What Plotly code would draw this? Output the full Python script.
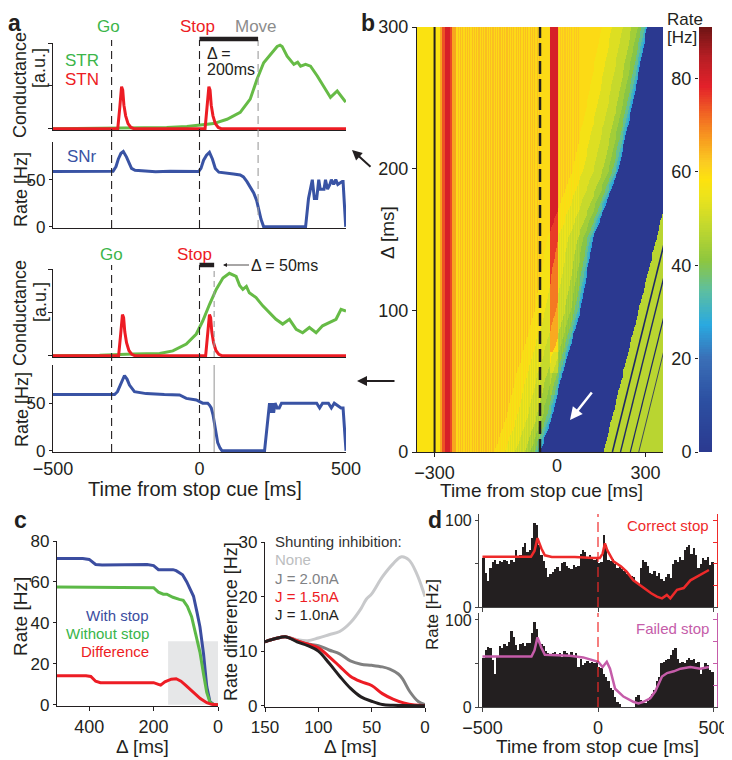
import numpy as np
import plotly.graph_objects as go

W, H = 732, 760          # browser window
OFF = 8                  # default page margin of the html body
FW, FH = W - OFF, H - OFF
FONT = "Liberation Sans, Arial, Helvetica, sans-serif"
INK = "#231f20"

# ======================= DATA =======================
# ---- panel a, upper (delta = 200 ms) ----
a1_str_t = [-500, -226, -112, -43, -3, 48, 94, 139, 173, 196, 219, 242, 265, 275, 282, 299, 322, 335, 345, 362, 379,
            402, 425, 447, 470, 482, 499]
a1_str_v = [0, 0.01, 0.03, 0.05, 0.08, 0.12, 0.22, 0.38, 0.69, 1.15, 1.54, 1.73, 1.92, 1.95, 1.92, 1.69, 1.5, 1.55,
            1.46, 1.5, 1.46, 1.23, 0.96, 0.73, 0.88, 0.77, 0.62]
a1_stn_t = [-500, -279, -272, -266, -262, -258, -252, -244, -234, -224, 19, 26, 32, 36, 40, 46, 54, 64, 74, 500]
a1_stn_v = [0, 0, 0.5, 0.98, 0.9, 0.55, 0.3, 0.12, 0.03, 0, 0, 0.5, 0.98, 0.9, 0.55, 0.3, 0.12, 0.03, 0, 0]
a2_snr_t = [-500, -400, -295, -285, -277, -268, -260, -249, -240, -232, -220, -203, -150, -100, -50, -3, 5, 14, 24,
            34, 44, 54, 66, 82, 100, 116, 139, 150, 162, 175, 185, 195, 202, 210, 219, 362, 372, 385, 392, 400, 407,
            412, 425, 430, 437, 445, 450, 458, 465, 472, 487, 490, 499]
a2_snr_v = [58.6, 59, 59, 64, 72, 78, 80, 74, 68, 62, 60, 59.5, 58.5, 59, 58.5, 58.6, 62, 70.7, 76, 79, 72, 62, 58,
            57.6, 57, 56, 55, 53, 48, 42, 36, 28, 19, 8, 0, 0, 30, 50, 30, 30, 50, 40, 40, 50, 40, 45, 50, 45, 50, 45,
            48, 48, 0]
# ---- panel a, lower (delta = 50 ms) ----
a3_str_t = [-500, -341, -227, -136, -91, -45, -11, 11, 34, 57, 80, 102, 125, 137, 148, 160, 170, 193, 216, 239, 261,
            284, 307, 330, 352, 375, 398, 420, 443, 466, 483, 500]
a3_str_v = [0, 0.01, 0.04, 0.05, 0.11, 0.27, 0.5, 0.8, 1.18, 1.53, 1.79, 1.9, 1.83, 1.62, 1.53, 1.6, 1.45, 1.34, 1.15,
            0.99, 0.84, 0.73, 0.84, 0.61, 0.53, 0.65, 0.53, 0.69, 0.76, 0.84, 1.07, 1.03]
a3_stn_t = [-500, -276, -269, -263, -259, -255, -249, -241, -231, -221, 21, 28, 34, 38, 42, 48, 56, 66, 76, 500]
a3_stn_v = [0, 0, 0.5, 0.95, 0.88, 0.55, 0.3, 0.12, 0.03, 0, 0, 0.5, 0.95, 0.88, 0.55, 0.3, 0.12, 0.03, 0, 0]
a4_snr_t = [-500, -290, -280, -273, -264, -256, -247, -239, -222, -182, -120, -68, -45, -11, 11, 28, 34, 40, 46, 51,
            57, 62, 70, 77, 222, 232, 239, 243, 248, 253, 258, 265, 272, 280, 300, 341, 400, 410, 420, 440, 450, 460,
            483, 490, 500]
a4_snr_v = [59, 59, 62, 67, 74, 79, 75, 69, 62, 60, 59, 58.6, 55, 53.4, 50, 50, 48, 45, 38, 27.6, 17, 8.6, 3, 0, 0, 30,
            50, 40, 50, 40, 50, 45, 45, 50, 50, 50, 50, 45, 50, 50, 45, 50, 45, 45, 0]
a_upper_events = [-300, 0]        # Go, Stop
a_upper_move = 200                # Move
a_lower_events = [-300, 0]
a_lower_move = 50

# ---- panel b heat map ----
hm_t_range = [-350, 350]
hm_dt = 2.5
hm_d_range = [0, 300]
hm_dd = 1.5
base_edges = [-350, -285, -277, -270, -256, -249, -241, 0, 25, 50, 110]
base_vals = [57.5, 66, 74, 80, 75, 66, 61.5, 59.5, 60, 61, 59.5]
stripe_t = [-241, 0, 50, 110]          # textured (striped) stretches
stripe_amp = [1.8, 1.4]
stopband_t = [28, 50]
stopband_delta_edges = [0, 40, 55, 70]
stopband_vals = [60, 64, 71, 80]
boundary_delta = [0, 25, 50, 75, 100, 125, 150, 175, 200, 250, 300]
boundary_t = [0, 35, 58, 87, 115, 133, 150, 187, 224, 267, 305]
ramp_d_edges = [0, 3, 8, 16, 28, 44, 70, 100, 130]
ramp_f = [0.45, 0.52, 0.6, 0.68, 0.74, 0.82, 0.88, 0.95, 1.0]
rebound_delta = [0, 170]
rebound_t = [181, 351]
rebound_rate = 47
rebound_dark_t0 = [206, 229, 257, 281]
rebound_dark_w = [1.6, 1.4, 1.2, 0.8]
cbar_max = 91

# ---- panel c left ----
c_blue_d = [500, 420, 400, 380, 360, 300, 220, 200, 185, 170, 140, 130, 110, 97, 85, 76, 65, 56, 45, 35, 25, 15, 0]
c_blue_v = [71.5, 71.5, 71.0, 68.5, 68.3, 68.5, 68.5, 68.0, 66.0, 66.0, 66.0, 65.5, 63.5, 60, 56, 53, 45, 38, 25, 9,
            1.5, 0.3, 0]
c_green_d = [500, 220, 200, 185, 170, 159, 140, 120, 108, 95, 82, 70, 56, 45, 35, 25, 15, 0]
c_green_v = [57.5, 57.5, 57.2, 55, 54, 54, 52.5, 51.5, 51, 48, 43, 35, 25.6, 15, 6, 1.2, 0.2, 0]
c_red_d = [500, 410, 395, 380, 365, 200, 185, 178, 165, 145, 130, 115, 100, 76, 55, 35, 20, 0]
c_red_v = [14.2, 14.2, 13.8, 11.5, 10.8, 10.8, 10.0, 9.6, 11.2, 12.5, 12.7, 11.5, 9.5, 6, 3, 1, 0.2, 0]
c_shade = [155, 0, 31]   # delta from, delta to, rate top
# ---- panel c right ----
cr_none_d = [150, 140, 130, 120, 110, 100, 90, 80, 70, 60, 55, 50, 40, 30, 22, 15, 8, 0]
cr_none_v = [11.7, 12.3, 12.6, 12.1, 11.9, 12.4, 13.0, 13.6, 15.2, 17.8, 19.5, 20.5, 23.6, 26.0, 27.3, 26.7, 24.3, 20.0]
cr_j20_d = [150, 140, 130, 120, 110, 100, 90, 80, 70, 60, 50, 40, 33, 25, 21, 14, 6, 0]
cr_j20_v = [11.7, 12.3, 12.6, 11.9, 11.3, 11.0, 10.2, 9.5, 8.2, 7.6, 7.4, 7.1, 6.7, 5.8, 4.9, 2.5, 0.7, 0.2]
cr_j15_d = [150, 140, 130, 120, 110, 100, 90, 80, 70, 60, 50, 40, 30, 20, 10, 0]
cr_j15_v = [11.7, 12.3, 12.6, 11.9, 11.3, 10.6, 9.0, 7.2, 5.4, 4.4, 3.7, 2.2, 1.2, 0.5, 0.1, 0]
cr_j10_d = [150, 140, 130, 120, 110, 100, 90, 80, 70, 60, 50, 40, 30, 0]
cr_j10_v = [11.7, 12.3, 12.6, 11.7, 11.0, 10.0, 7.8, 5.4, 3.2, 1.6, 0.8, 0.2, 0.05, 0]

# ---- panel d ----
d_bin_start = -500
d_bin_width = 10
d_hist_correct = [57, 40, 30, 45, 52, 55, 50, 54, 52, 55,
                  53, 50, 55, 52, 66, 58, 60, 70, 74, 64,
                  66, 80, 98, 95, 72, 60, 53, 45, 35, 38,
                  41, 44, 47, 42, 51, 52, 48, 45, 44, 49,
                  46, 48, 62, 66, 64, 58, 60, 57, 55, 57,
                  51, 52, 84, 72, 55, 54, 56, 50, 45, 46,
                  44, 42, 38, 37, 36, 35, 28, 27, 45, 55,
                  52, 48, 40, 38, 42, 36, 40, 33, 30, 35,
                  38, 34, 50, 55, 52, 58, 55, 66, 70, 72,
                  62, 68, 60, 45, 50, 57, 55, 58, 49, 52]
d_hist_failed = [56, 65, 69, 68, 54, 38, 58, 70, 68, 72,
                 70, 75, 87, 80, 71, 66, 72, 73, 70, 74,
                 73, 85, 98, 90, 75, 72, 70, 64, 62, 60,
                 62, 63, 60, 62, 58, 64, 62, 60, 63, 58,
                 62, 46, 55, 48, 50, 53, 50, 52, 50, 52,
                 46, 45, 38, 34, 30, 22, 20, 12, 6, 4,
                 0, 0, 0, 0, 0, 0, 12, 14, 8, 6,
                 5, 7, 12, 15, 20, 30, 35, 50, 52, 54,
                 55, 60, 66, 68, 55, 50, 52, 50, 54, 56,
                 54, 55, 50, 52, 38, 45, 50, 48, 42, 40]
d_correct_t = [-500, -290, -275, -262, -245, -230, -200, -100, -20, 8, 20, 30, 40, 67, 100, 124, 153, 197, 230, 255,
               277, 298, 313, 342, 371, 400, 429, 458, 480]
d_correct_v = [58.5, 58.5, 65, 80, 68, 60, 58, 58, 57, 57, 62, 74, 66, 53, 47, 41, 31, 22, 16, 12, 10, 14, 10, 20, 22,
               31, 35, 39, 43]
d_failed_t = [-500, -288, -275, -262, -245, -230, -122, -64, 1, 20, 38, 52, 74, 110, 153, 175, 197, 226, 248, 277,
              299, 328, 357, 400, 443, 480]
d_failed_v = [58, 58, 65, 80, 68, 60, 59, 57, 52, 46, 52, 44, 21, 12, 6, 4, 6, 10, 18, 35, 39, 41, 44, 46, 44, 46]

# ======================= HELPERS (window pixels -> paper) =======================
def PX(x):
    return (x - OFF) / FW


def PY(y):
    return 1 - (y - OFF) / FH


def xd(x0, x1):
    return [PX(x0), PX(x1)]


def yd(y0, y1):
    return [PY(y1), PY(y0)]


def ax(**kw):
    d = dict(showline=True, linecolor=INK, linewidth=1.2, ticks="outside", ticklen=4, tickcolor=INK,
             tickwidth=1.2, showgrid=False, zeroline=False, fixedrange=True, automargin=False,
             tickfont=dict(family=FONT, size=17, color=INK))
    d.update(kw)
    return d


def txt(x, y, s, size=17, color=INK, xanchor="center", yanchor="middle", angle=0):
    return dict(x=PX(x), y=PY(y), xref="paper", yref="paper", text=s, showarrow=False,
                font=dict(family=FONT, size=size, color=color), xanchor=xanchor, yanchor=yanchor,
                textangle=angle)


GREEN = "#66bb46"
RED = "#ed1c24"
BLUE = "#3953a4"
MAG = "#c55ca9"

fig = go.Figure()

# ---------- panel a traces ----------
fig.add_trace(go.Scatter(x=a1_str_t, y=a1_str_v, mode="lines", line=dict(color=GREEN, width=3), xaxis="x", yaxis="y"))
fig.add_trace(go.Scatter(x=a1_stn_t, y=a1_stn_v, mode="lines", line=dict(color=RED, width=3), xaxis="x", yaxis="y"))
fig.add_trace(go.Scatter(x=a2_snr_t, y=a2_snr_v, mode="lines", line=dict(color=BLUE, width=3), xaxis="x2", yaxis="y2"))
fig.add_trace(go.Scatter(x=a3_str_t, y=a3_str_v, mode="lines", line=dict(color=GREEN, width=3), xaxis="x3", yaxis="y3"))
fig.add_trace(go.Scatter(x=a3_stn_t, y=a3_stn_v, mode="lines", line=dict(color=RED, width=3), xaxis="x3", yaxis="y3"))
fig.add_trace(go.Scatter(x=a4_snr_t, y=a4_snr_v, mode="lines", line=dict(color=BLUE, width=3), xaxis="x4", yaxis="y4"))

# ---------- panel b heat map ----------
t_c = np.arange(hm_t_range[0] + hm_dt / 2, hm_t_range[1], hm_dt)
d_c = np.arange(hm_d_range[0] + hm_dd / 2, hm_d_range[1], hm_dd)
T, D = np.meshgrid(t_c, d_c)
base = np.array(base_vals)[np.clip(np.searchsorted(base_edges, T, side="right") - 1, 0, len(base_vals) - 1)]
col_parity = (np.arange(len(t_c)) % 2)[None, :] * 2 - 1
for k in range(len(stripe_amp)):
    m = (T >= stripe_t[2 * k]) & (T < stripe_t[2 * k + 1])
    base = np.where(m, base + stripe_amp[k] * col_parity, base)
sb = np.array(stopband_vals)[np.searchsorted(stopband_delta_edges, D, side="right") - 1]
in_sb = (T >= stopband_t[0]) & (T < stopband_t[1])
base = np.where(in_sb, sb, base)
B = np.interp(D, boundary_delta, boundary_t)
dist = B - T
f = np.array(ramp_f)[np.clip(np.searchsorted(ramp_d_edges, dist, side="right") - 1, 0, len(ramp_f) - 1)]
Z = base * f
Z = np.where(dist <= 0, 0.0, Z)
slope = (rebound_t[1] - rebound_t[0]) / (rebound_delta[1] - rebound_delta[0])
R = rebound_t[0] + slope * D
Z = np.where(T >= R, rebound_rate, Z)

cscale = [[0.00, "#2b3990"], [0.12, "#2c4fa1"], [0.22, "#3a6fb7"], [0.30, "#2aa9e0"], [0.38, "#5dbfa0"],
          [0.45, "#8dc63f"], [0.53, "#c2d82e"], [0.60, "#ece31c"], [0.64, "#fde20e"], [0.68, "#fbcc22"],
          [0.73, "#f8a11f"], [0.79, "#f26a23"], [0.86, "#e3212a"], [0.93, "#b51e24"], [1.00, "#6e1414"]]
fig.add_trace(go.Heatmap(x=t_c, y=d_c, z=Z, colorscale=cscale, zmin=0, zmax=cbar_max, showscale=False,
                         xaxis="x5", yaxis="y5", hoverinfo="skip"))
# dark (zero-rate) streaks inside the rebound region, parallel to its front
for c0, w in zip(rebound_dark_t0, rebound_dark_w):
    fig.add_trace(go.Scatter(x=[c0 + slope * hm_d_range[0], c0 + slope * hm_d_range[1]], y=hm_d_range,
                             mode="lines", line=dict(color="#1f2a66", width=w), xaxis="x5", yaxis="y5",
                             hoverinfo="skip"))
levels = np.arange(0.25, cbar_max, 0.5)
fig.add_trace(go.Heatmap(x=[0.5], y=levels, z=[[v] for v in levels], colorscale=cscale, zmin=0, zmax=cbar_max,
                         showscale=False, xaxis="x6", yaxis="y6", hoverinfo="skip"))

# ---------- panel c ----------
fig.add_trace(go.Scatter(x=c_blue_d, y=c_blue_v, mode="lines", line=dict(color="#3b4da0", width=3), xaxis="x7", yaxis="y7"))
fig.add_trace(go.Scatter(x=c_green_d, y=c_green_v, mode="lines", line=dict(color="#5cb947", width=3), xaxis="x7", yaxis="y7"))
fig.add_trace(go.Scatter(x=c_red_d, y=c_red_v, mode="lines", line=dict(color=RED, width=3), xaxis="x7", yaxis="y7"))
fig.add_trace(go.Scatter(x=cr_none_d, y=cr_none_v, mode="lines", line=dict(color="#c8c9cb", width=3, shape="spline"), xaxis="x8", yaxis="y8"))
fig.add_trace(go.Scatter(x=cr_j20_d, y=cr_j20_v, mode="lines", line=dict(color="#808080", width=3, shape="spline"), xaxis="x8", yaxis="y8"))
fig.add_trace(go.Scatter(x=cr_j15_d, y=cr_j15_v, mode="lines", line=dict(color=RED, width=3, shape="spline"), xaxis="x8", yaxis="y8"))
fig.add_trace(go.Scatter(x=cr_j10_d, y=cr_j10_v, mode="lines", line=dict(color=INK, width=3, shape="spline"), xaxis="x8", yaxis="y8"))

# ---------- panel d ----------
bins = [d_bin_start + d_bin_width * (i + 0.5) for i in range(len(d_hist_correct))]
fig.add_trace(go.Bar(x=bins, y=d_hist_correct, width=d_bin_width, marker=dict(color=INK, line=dict(width=0)),
                     xaxis="x9", yaxis="y9"))
fig.add_trace(go.Scatter(x=d_correct_t, y=d_correct_v, mode="lines", line=dict(color="#ee2a2a", width=2.5),
                         xaxis="x9", yaxis="y9"))
fig.add_trace(go.Scatter(x=[0], y=[0], mode="markers", marker=dict(opacity=0), xaxis="x9", yaxis="y10"))
fig.add_trace(go.Bar(x=bins, y=d_hist_failed, width=d_bin_width, marker=dict(color=INK, line=dict(width=0)),
                     xaxis="x10", yaxis="y11"))
fig.add_trace(go.Scatter(x=d_failed_t, y=d_failed_v, mode="lines", line=dict(color=MAG, width=2.5),
                         xaxis="x10", yaxis="y11"))
fig.add_trace(go.Scatter(x=[0], y=[0], mode="markers", marker=dict(opacity=0), xaxis="x10", yaxis="y12"))

# ======================= LAYOUT =======================
lay = dict(width=FW, height=FH, margin=dict(l=0, r=0, t=0, b=0, pad=0, autoexpand=False), autosize=False,
           showlegend=False, paper_bgcolor="white", plot_bgcolor="rgba(0,0,0,0)", bargap=0,
           font=dict(family=FONT, color=INK))
# a
lay["xaxis"] = ax(domain=xd(53, 346), range=[-500, 500], anchor="y", ticks="", showticklabels=False)
lay["yaxis"] = ax(domain=yd(43, 130), range=[-0.03, 2], anchor="x", tickvals=[0, 1, 2], showticklabels=False)
lay["xaxis2"] = ax(domain=xd(53, 346), range=[-500, 500], anchor="y2", tickvals=[-500, 0, 500], ticks="inside",
                   showticklabels=False)
lay["yaxis2"] = ax(domain=yd(142, 228), range=[-1.2, 90], anchor="x2", tickvals=[0, 50], ticklen=3)
lay["xaxis3"] = ax(domain=xd(53, 346), range=[-500, 500], anchor="y3", ticks="", showticklabels=False)
lay["yaxis3"] = ax(domain=yd(269, 357), range=[-0.03, 2], anchor="x3", tickvals=[0, 1, 2], showticklabels=False)
lay["xaxis4"] = ax(domain=xd(53, 346), range=[-500, 500], anchor="y4", tickvals=[-500, 0, 500], ticks="inside",
                   tickfont=dict(family=FONT, size=18, color=INK))
lay["yaxis4"] = ax(domain=yd(365, 452), range=[-1.2, 90], anchor="x4", tickvals=[0, 50], ticklen=3)
# b
lay["xaxis5"] = ax(domain=xd(417, 663), range=hm_t_range, anchor="y5", tickvals=[-300, 300],
                   tickfont=dict(family=FONT, size=18, color=INK))
lay["yaxis5"] = ax(domain=yd(27, 452), range=hm_d_range, anchor="x5", tickvals=[0, 100, 200, 300],
                   tickfont=dict(family=FONT, size=18, color=INK))
lay["xaxis6"] = ax(domain=xd(699, 712), range=[0, 1], anchor="y6", visible=False)
lay["yaxis6"] = ax(domain=yd(27, 452), range=[0, cbar_max], anchor="x6", tickvals=[0, 20, 40, 60, 80],
                   showline=False, ticklen=3, tickfont=dict(family=FONT, size=18, color=INK))
# c
lay["xaxis7"] = ax(domain=xd(57, 218), range=[500, 0], anchor="y7", tickvals=[0, 200, 400],
                   tickfont=dict(family=FONT, size=18, color=INK))
lay["yaxis7"] = ax(domain=yd(541, 706), range=[-0.6, 80], anchor="x7", tickvals=[0, 20, 40, 60, 80], ticklen=3)
lay["xaxis8"] = ax(domain=xd(265, 425), range=[150, 0], anchor="y8", tickvals=[0, 50, 100, 150])
lay["yaxis8"] = ax(domain=yd(542, 707), range=[-0.25, 30], anchor="x8", tickvals=[0, 10, 20, 30], ticklen=3)
# d
lay["xaxis9"] = ax(domain=xd(479, 717), range=[-515, 515], anchor="y9", tickvals=[-500, 0, 500],
                   showticklabels=False, linecolor="#444", tickcolor="#444")
lay["yaxis9"] = ax(domain=yd(514, 607), range=[0, 108], anchor="x9", tickvals=[0, 50, 100], ticklen=3,
                   ticktext=["0", "", "100"], linecolor="#444", tickcolor="#444",
                   tickfont=dict(family=FONT, size=16, color=INK))
lay["yaxis10"] = ax(overlaying="y9", anchor="x9", side="right", range=[0, 108], tickvals=[25, 50, 75, 100],
                    showticklabels=False, linecolor="#ee2a2a", tickcolor="#ee2a2a", ticks="inside")
lay["xaxis10"] = ax(domain=xd(479, 717), range=[-515, 515], anchor="y11", tickvals=[-500, 0, 500],
                    linecolor="#444", tickcolor="#444", tickfont=dict(family=FONT, size=18, color=INK))
lay["yaxis11"] = ax(domain=yd(613, 707), range=[0, 108], anchor="x10", tickvals=[0, 50, 100], ticklen=3,
                    ticktext=["0", "", "100"], linecolor="#444", tickcolor="#444",
                    tickfont=dict(family=FONT, size=16, color=INK))
lay["yaxis12"] = ax(overlaying="y11", anchor="x10", side="right", range=[0, 108], tickvals=[25, 50, 75, 100],
                    showticklabels=False, linecolor=MAG, tickcolor=MAG, ticks="inside")
fig.update_layout(**lay)

# ======================= SHAPES =======================
shapes = []
for tv in a_upper_events:
    shapes.append(dict(type="line", xref="x2", yref="paper", x0=tv, x1=tv, y0=PY(228), y1=PY(40),
                       line=dict(color=INK, width=1.1, dash="8px,5px")))
shapes.append(dict(type="line", xref="x2", yref="paper", x0=a_upper_move, x1=a_upper_move, y0=PY(228), y1=PY(40),
                   line=dict(color="#9d9d9d", width=1.1, dash="8px,5px")))
shapes.append(dict(type="line", xref="x2", yref="paper", x0=a_upper_events[1], x1=a_upper_move, y0=PY(39), y1=PY(39),
                   line=dict(color=INK, width=4.5)))
for tv in a_lower_events:
    shapes.append(dict(type="line", xref="x4", yref="paper", x0=tv, x1=tv, y0=PY(452), y1=PY(265),
                       line=dict(color=INK, width=1.1, dash="8px,5px")))
shapes.append(dict(type="line", xref="x4", yref="paper", x0=a_lower_move, x1=a_lower_move, y0=PY(357), y1=PY(268),
                   line=dict(color="#9d9d9d", width=1.1, dash="6px,4px")))
shapes.append(dict(type="line", xref="x4", yref="paper", x0=a_lower_move, x1=a_lower_move, y0=PY(452), y1=PY(365),
                   line=dict(color="#9d9d9d", width=1.1)))
shapes.append(dict(type="line", xref="x4", yref="paper", x0=a_lower_events[1], x1=a_lower_move, y0=PY(265), y1=PY(265),
                   line=dict(color=INK, width=4.5)))
# b lines
shapes.append(dict(type="line", xref="x5", yref="y5", x0=-300, x1=-300, y0=0, y1=300, line=dict(color=INK, width=2)))
shapes.append(dict(type="line", xref="x5", yref="y5", x0=0, x1=0, y0=0, y1=300,
                   line=dict(color=INK, width=2.5, dash="13px,5px")))
# c shade
shapes.append(dict(type="rect", xref="x7", yref="y7", x0=c_shade[0], x1=c_shade[1], y0=0, y1=c_shade[2],
                   fillcolor="#e6e7e8", line=dict(width=0), layer="below"))
# d dashed at stop
shapes.append(dict(type="line", xref="x9", yref="y9", x0=0, x1=0, y0=0, y1=108,
                   line=dict(color="#ee2a2a", width=1.2, dash="10px,5px")))
shapes.append(dict(type="line", xref="x10", yref="y11", x0=0, x1=0, y0=0, y1=108,
                   line=dict(color="#ee2a2a", width=1.2, dash="10px,5px")))
fig.update_layout(shapes=shapes)

# ======================= ANNOTATIONS =======================
ann = []
ann.append(txt(14, 8, "<b>a</b>", size=23, yanchor="top"))
ann.append(txt(368, 8, "<b>b</b>", size=23, yanchor="top"))
ann.append(txt(20, 520, "<b>c</b>", size=23))
ann.append(txt(435, 520, "<b>d</b>", size=23))
ann += [txt(108, 27, "Go", color="#3cb54a"), txt(197, 27, "Stop", color=RED), txt(256, 27, "Move", color="#8c8c8c"),
        txt(111, 254, "Go", color="#3cb54a"), txt(194, 254, "Stop", color=RED),
        txt(63, 60, "STR", color="#3cb54a", xanchor="left"), txt(63, 80, "STN", color=RED, xanchor="left"),
        txt(65, 157, "SNr", color=BLUE, xanchor="left"),
        txt(205, 53, "Δ =", size=16, xanchor="left"), txt(205, 70, "200ms", size=16, xanchor="left"),
        txt(20, 85, "Conductance", size=18, angle=-90), txt(39, 68, "[a.u.]", size=18, angle=-90),
        txt(21, 190, "Rate [Hz]", size=18, angle=-90),
        txt(20, 313, "Conductance", size=18, angle=-90), txt(40, 302, "[a.u.]", size=18, angle=-90),
        txt(22, 410, "Rate [Hz]", size=18, angle=-90),
        txt(195, 489, "Time from stop cue [ms]", size=20)]
ann.append(dict(x=PX(223), y=PY(265), xref="paper", yref="paper", text="Δ = 50ms", showarrow=True,
                ax=61, ay=0, arrowhead=2, arrowsize=1, arrowwidth=0.8, arrowcolor=INK,
                font=dict(family=FONT, size=16, color=INK)))
ann.append(dict(x=PX(352), y=PY(150), xref="paper", yref="paper", text="", showarrow=True, ax=20, ay=18,
                arrowhead=2, arrowsize=1, arrowwidth=2, arrowcolor=INK))
ann.append(dict(x=PX(357), y=PY(381), xref="paper", yref="paper", text="", showarrow=True, ax=39, ay=0,
                arrowhead=2, arrowsize=1, arrowwidth=2, arrowcolor=INK))
ann.append(dict(x=PX(570), y=PY(420), xref="paper", yref="paper", text="", showarrow=True, ax=23, ay=-29,
                arrowhead=2, arrowsize=1, arrowwidth=2.5, arrowcolor="white"))
ann += [txt(388, 233, "Δ [ms]", size=19, angle=-90), txt(541, 490, "Time from stop cue [ms]", size=19),
        txt(557, 466, "0", size=18),
        txt(665, 8, "Rate", size=17, xanchor="left", yanchor="top"),
        txt(665, 38, "[Hz]", size=17, xanchor="left")]
ann += [txt(117, 615, "With stop", size=15, color="#3b4da0"), txt(107, 633, "Without stop", size=15, color="#39b54a"),
        txt(115, 651, "Difference", size=15, color=RED),
        txt(20, 617, "Rate [Hz]", size=19, angle=-90), txt(142, 746, "Δ [ms]", size=19),
        txt(231, 622, "Rate difference [Hz]", size=18, angle=-90), txt(350, 746, "Δ [ms]", size=19),
        txt(273, 541, "Shunting inhibition:", size=15, color="#333333", xanchor="left"),
        txt(273, 559, "None", size=15, color="#bcbec0", xanchor="left"),
        txt(273, 578, "J = 2.0nA", size=15, color="#808285", xanchor="left"),
        txt(273, 596, "J = 1.5nA", size=15, color=RED, xanchor="left"),
        txt(273, 614, "J = 1.0nA", size=15, color=INK, xanchor="left")]
ann += [txt(711, 525, "Correct stop", size=15, color="#ee2a2a", xanchor="right"),
        txt(711, 628, "Failed stop", size=15, color=MAG, xanchor="right"),
        txt(432, 614, "Rate [Hz]", size=17, angle=-90), txt(597, 746, "Time from stop cue [ms]", size=19)]
fig.update_layout(annotations=ann)

fig.write_html("out.html")
